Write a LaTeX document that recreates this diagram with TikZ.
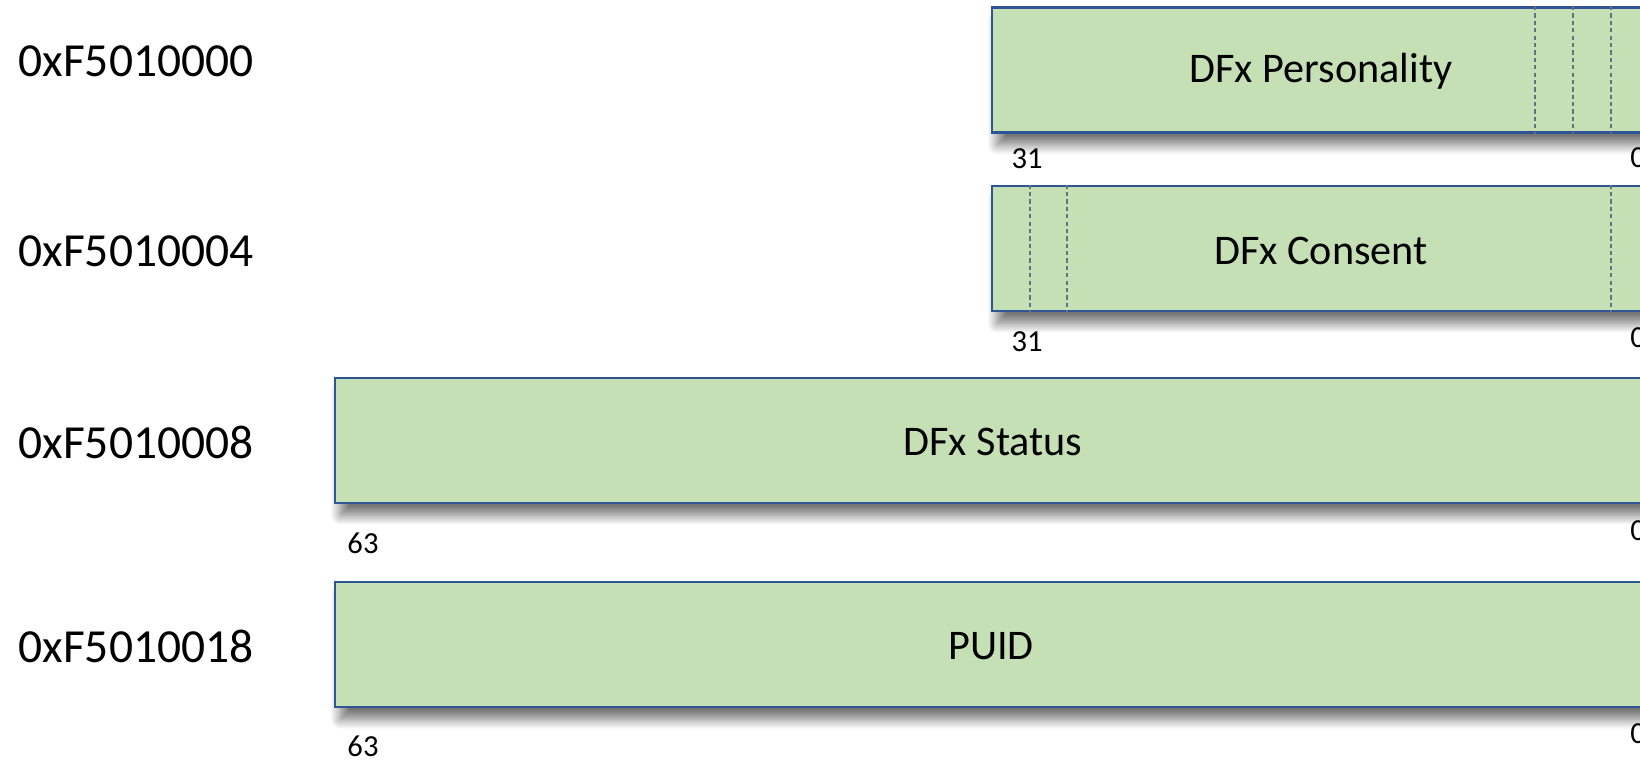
\documentclass[tikz,border=0pt]{standalone}
\usepackage{fontspec}
\setmainfont{Carlito}
\usetikzlibrary{shadows.blur}
\definecolor{regfill}{HTML}{C5E0B4}
\definecolor{regline}{HTML}{2F5597}
\definecolor{fieldline}{HTML}{5F7183}
\begin{document}
\begin{tikzpicture}[x=0.01cm, y=-0.01cm,
  reg/.style={draw=regline, line width=0.8pt, fill=regfill, inner sep=0pt,
    minimum height=125*0.01cm, font=\fontsize{12}{14}\selectfont,
    blur shadow={shadow xshift=1.5pt, shadow yshift=-3.5pt, shadow blur radius=2.8pt,
      shadow opacity=55, shadow blur steps=14}},
  addr/.style={anchor=center, inner sep=0pt, font=\fontsize{13.5}{16}\selectfont},
  bitno/.style={anchor=center, inner sep=0pt, font=\fontsize{8.7}{10}\selectfont},
  field/.style={draw=fieldline, line width=0.45pt, dash pattern=on 1.2pt off 0.9pt}]
\useasboundingbox (0,0) rectangle (1640,761);
\clip (0,0) rectangle (1640,761);

% register addresses
\node[addr] (a0) at (136,61)  {0xF5010000};
\node[addr] (a4) at (136,251) {0xF5010004};
\node[addr] (a8) at (136,442) {0xF5010008};
\node[addr] (a18) at (136,646) {0xF5010018};

% registers
\node[reg, minimum width=658*0.01cm] (pers) at (1321,70) {};
\node[font=\fontsize{12}{14}\selectfont, inner sep=0pt] (perst) at (1321,71) {DFx Personality};
\node[reg, minimum width=658*0.01cm] (cons) at (1321,248.5) {};
\node[font=\fontsize{12}{14}\selectfont, inner sep=0pt] (const) at (1321,251) {DFx Consent};
\node[reg, minimum width=1316*0.01cm] (stat) at (993,440.5) {};
\node[font=\fontsize{12}{14}\selectfont, inner sep=0pt] (statt) at (993,442) {DFx Status};
\node[reg, minimum width=1316*0.01cm] (puid) at (993,644.5) {};
\node[font=\fontsize{12}{14}\selectfont, inner sep=0pt] (puidt) at (991,646) {PUID};

% bit field separators
\foreach \xx in {1535,1573,1611}
  \draw[field] (pers.north -| \xx,0) -- (pers.south -| \xx,0);
\foreach \xx in {1030,1067,1611}
  \draw[field] (cons.north -| \xx,0) -- (cons.south -| \xx,0);

% bit numbers
\node[bitno] (p31) at (1027,159) {31};
\node[bitno] (p0) at (1638,158) {0};
\node[bitno] (c31) at (1027,342) {31};
\node[bitno] (c0) at (1638,338) {0};
\node[bitno] (s63) at (363,543) {63};
\node[bitno] (s0) at (1638,531) {0};
\node[bitno] (u63) at (363,746) {63};
\node[bitno] (u0) at (1638,734) {0};
\end{tikzpicture}
\end{document}
